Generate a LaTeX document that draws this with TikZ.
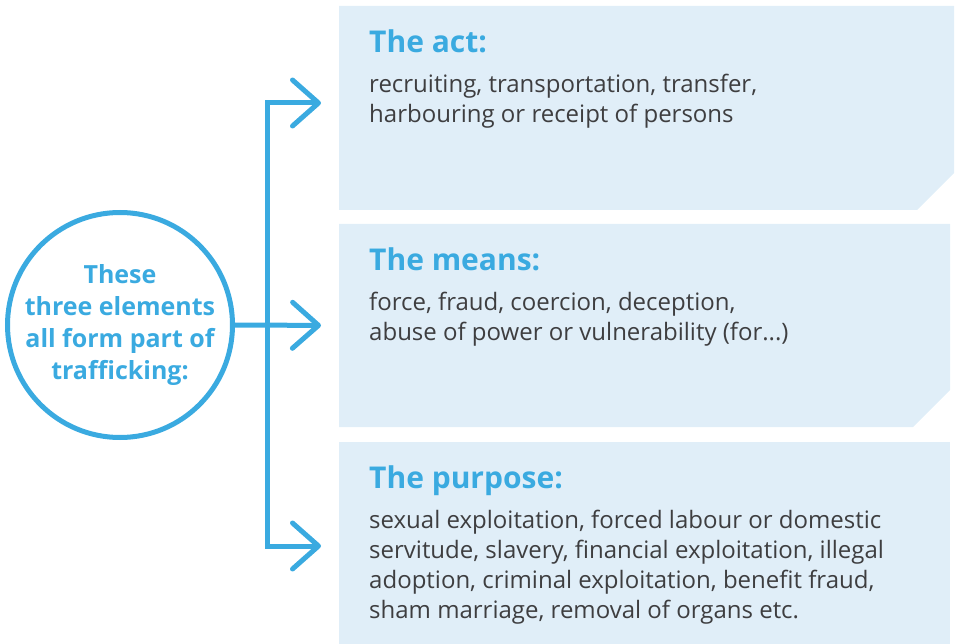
\documentclass[tikz,border=0pt]{standalone}
\usepackage{fontspec}
\setmainfont{Open Sans}
\usetikzlibrary{calc,arrows.meta}
\definecolor{tblue}{RGB}{58,170,224}
\definecolor{tpale}{RGB}{224,238,248}
\definecolor{tgrey}{RGB}{62,62,64}

\begin{document}
\begin{tikzpicture}
        [x=1pt, y=-1pt,
          box/.style={
            rectangle,
            inner sep=0pt,
            outer sep=0pt,
            minimum width=611pt,
            minimum height=203pt},
          heading/.style={
            anchor=base west,
            inner sep=0pt,
            text=tblue,
            font=\fontsize{30}{36}\selectfont\bfseries},
          body/.style={
            anchor=base west,
            inner sep=0pt,
            align=left,
            text=tgrey,
            font=\fontsize{24}{30}\selectfont},
          link/.style={
            draw=tblue,
            line width=5pt,
            -{Straight Barb[length=26pt,width=46pt,round]},
            shorten >=18pt}]
        \useasboundingbox (0,0) rectangle (956,644);

        \node[draw=tblue, line width=5pt, circle, inner sep=-4pt, minimum size=225pt,
          align=center, text=tblue,
          font=\fontsize{25}{32}\selectfont\bfseries] (hub) at (120,325)
          {These\\three elements\\all form part of\\trafficking:};

        \node[box, minimum width=615pt, minimum height=204pt] (act) at (646.5,108) {};
        \node[box] (means) at (644.5,325.5) {};
        \node[box, fill=tpale, minimum height=202pt] (purpose) at (644.5,543) {};

        \fill[tpale] (act.north west) -- (act.north east) -- ([yshift=37pt]act.south east)
          -- ([xshift=-37pt]act.south east) -- (act.south west) -- cycle;
        \fill[tpale] (means.north west) -- (means.north east) -- ([yshift=37pt]means.south east)
          -- ([xshift=-37pt]means.south east) -- (means.south west) -- cycle;

        \node[heading] (acttitle) at ($(act.north west)+(30,47)$) {The act:};
        \node[body] (acttext) at ($(acttitle.base west)+(0,70)$)
          {recruiting, transportation, transfer,\\harbouring or receipt of persons};

        \node[heading] (meanstitle) at ($(means.north west)+(30,47)$) {The means:};
        \node[body] (meanstext) at ($(meanstitle.base west)+(0,70)$)
          {force, fraud, coercion, deception,\\abuse of power or vulnerability (for...)};

        \node[heading] (purposetitle) at ($(purpose.north west)+(30,46)$) {The purpose:};
        \node[body] (purposetext) at ($(purposetitle.base west)+(0,130)$)
          {sexual exploitation, forced labour or domestic\\servitude, slavery, financial exploitation, illegal\\adoption, criminal exploitation, benefit fraud,\\sham marriage, removal of organs etc.};

        \coordinate (fork) at ($(hub.east)+(32,0)$);
        \draw[link] (hub.east) -- (means.west);
        \draw[link] (fork) |- ([yshift=5pt]act.west);
        \draw[link] (fork) |- ([yshift=-3pt]purpose.west);
      \end{tikzpicture}
\end{document}
